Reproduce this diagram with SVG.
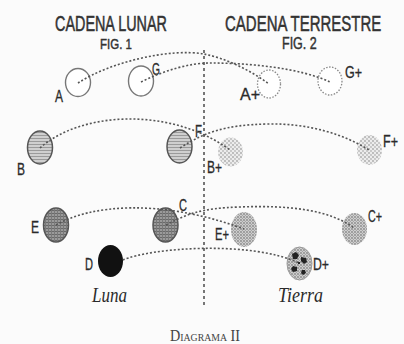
<svg xmlns="http://www.w3.org/2000/svg" width="404" height="344" viewBox="0 0 404 344">
<style>
.t{font-family:"Liberation Sans",Arial,sans-serif;fill:#333;stroke:#333;stroke-width:0.35}
.lb{font-family:"Liberation Sans",Arial,sans-serif;fill:#2a2a2a;stroke:#2a2a2a;stroke-width:0.3;font-size:16px}
.it{font-family:"Liberation Serif","Times New Roman",serif;font-style:italic;fill:#2a2a2a;font-size:21px}
.cap{font-family:"Liberation Serif","Times New Roman",serif;fill:#444;font-size:16px;font-variant:small-caps}
.dot{fill:none;stroke:#555;stroke-width:1.6;stroke-dasharray:2 2}
.ring{fill:#fff;stroke:#777;stroke-width:1.4}
.ringd{fill:#fff;stroke:#888;stroke-width:1.3;stroke-dasharray:1.5 1.5}
.dk{stroke:#555;stroke-width:1.5}
</style>
<defs>
<pattern id="stripe" width="4" height="3" patternUnits="userSpaceOnUse">
<rect width="4" height="3" fill="#cfcfcf"/>
<rect width="4" height="1" fill="#9a9a9a"/>
</pattern>
<pattern id="grid" width="3" height="3" patternUnits="userSpaceOnUse">
<rect width="3" height="3" fill="#9a9a9a"/>
<rect width="3" height="1" fill="#6a6a6a"/>
<rect width="1" height="3" fill="#7a7a7a"/>
</pattern>
<pattern id="stipL" width="4" height="4" patternUnits="userSpaceOnUse">
<rect width="4" height="4" fill="#ececec"/>
<circle cx="1" cy="1" r="0.9" fill="#a8a8a8"/>
<circle cx="3" cy="3" r="0.9" fill="#b8b8b8"/>
</pattern>
<pattern id="stipD" width="3" height="3" patternUnits="userSpaceOnUse">
<rect width="3" height="3" fill="#d0d0d0"/>
<circle cx="1" cy="1" r="0.9" fill="#888"/>
<circle cx="2.4" cy="2.3" r="0.6" fill="#999"/>
</pattern>
</defs>
<rect width="404" height="344" fill="#fbfbfb"/>

<g id="titles">
<text class="t" transform="translate(55,30.5) scale(1,1.5)" font-size="14.4">CADENA LUNAR</text>
<text class="t" transform="translate(100,49) scale(1,1.3)" font-size="11.5">FIG. 1</text>
<text class="t" transform="translate(225,30.5) scale(1,1.45)" font-size="15">CADENA TERRESTRE</text>
<text class="t" transform="translate(282,49) scale(1,1.3)" font-size="12.5">FIG. 2</text>
</g>

<g id="divider">
<line x1="204" y1="50" x2="204" y2="307" stroke="#555" stroke-width="1.6" stroke-dasharray="3 3"/>
</g>

<g id="node-A"><ellipse class="ring" cx="78" cy="82.5" rx="12.5" ry="14"/><text class="lb" x="55" y="102" textLength="8" lengthAdjust="spacingAndGlyphs">A</text></g>
<g id="node-G"><ellipse class="ring" cx="141" cy="81" rx="12.5" ry="15"/><text class="lb" x="152" y="75" textLength="8" lengthAdjust="spacingAndGlyphs">G</text></g>
<g id="node-Aplus"><ellipse class="ringd" cx="269" cy="84" rx="11.5" ry="14"/><text class="lb" x="240" y="100" textLength="20" lengthAdjust="spacingAndGlyphs">A+</text></g>
<g id="node-Gplus"><ellipse class="ringd" cx="330" cy="81" rx="12" ry="14"/><text class="lb" x="345" y="78" textLength="17" lengthAdjust="spacingAndGlyphs">G+</text></g>

<g id="node-B"><ellipse cx="40" cy="147.5" rx="12.5" ry="16.5" fill="url(#stripe)" class="dk"/><text class="lb" x="17" y="175" textLength="8" lengthAdjust="spacingAndGlyphs">B</text></g>
<g id="node-F"><ellipse cx="179.5" cy="146.5" rx="12.5" ry="16.5" fill="url(#stripe)" class="dk"/><text class="lb" x="195" y="137" textLength="7" lengthAdjust="spacingAndGlyphs">F</text></g>
<g id="node-Bplus"><ellipse cx="230.5" cy="152" rx="12.5" ry="14.5" fill="url(#stipL)"/><text class="lb" x="207" y="173" textLength="15" lengthAdjust="spacingAndGlyphs">B+</text></g>
<g id="node-Fplus"><ellipse cx="369.5" cy="150" rx="12.5" ry="15" fill="url(#stipL)"/><text class="lb" x="383" y="147" textLength="15" lengthAdjust="spacingAndGlyphs">F+</text></g>

<g id="node-E"><ellipse cx="56" cy="225" rx="12.5" ry="17" fill="url(#grid)" class="dk"/><text class="lb" x="31" y="233" textLength="8" lengthAdjust="spacingAndGlyphs">E</text></g>
<g id="node-C"><ellipse cx="165.5" cy="225" rx="12.5" ry="17" fill="url(#grid)" class="dk"/><text class="lb" x="179" y="211" textLength="8" lengthAdjust="spacingAndGlyphs">C</text></g>
<g id="node-Eplus"><ellipse cx="244" cy="229.5" rx="13" ry="17.5" fill="url(#stipD)"/><text class="lb" x="215" y="240" textLength="14" lengthAdjust="spacingAndGlyphs">E+</text></g>
<g id="node-Cplus"><ellipse cx="354.5" cy="229" rx="12.5" ry="16" fill="url(#stipD)"/><text class="lb" x="368" y="222" textLength="14" lengthAdjust="spacingAndGlyphs">C+</text></g>

<g id="node-D"><ellipse cx="110.5" cy="261" rx="12.5" ry="16" fill="#111"/><text class="lb" x="85" y="270" textLength="8" lengthAdjust="spacingAndGlyphs">D</text></g>
<g id="node-Dplus"><ellipse cx="299.5" cy="263.5" rx="12.5" ry="16.5" fill="url(#stipD)" stroke="#999" stroke-width="1"/>
<path d="M292,254 l4,-2 3,3 -2,4 -4,0 z M301,257 l5,1 1,4 -3,2 -3,-3 z M293,266 l4,1 0,4 -4,1 -2,-3 z M302,270 l3,0 1,3 -3,2 -2,-2 z M298,262 l2,0 0,2 -2,0 z" fill="#222"/>
<text class="lb" x="313" y="270" textLength="16" lengthAdjust="spacingAndGlyphs">D+</text></g>

<g id="connectors">
<path class="dot" d="M78,83 C110,62 170,48 204,54 C225,58 250,70 269,84"/>
<path class="dot" d="M141,82 C165,70 190,63 210,63 C250,63 300,68 330,82"/>
<path class="dot" d="M40,148 C80,112 170,106 230,150"/>
<path class="dot" d="M180,148 C205,132 225,125 267,124 C310,123 345,135 369,150"/>
<path class="dot" d="M56,225 C90,205 160,198 244,229"/>
<path class="dot" d="M166,225 C185,215 200,208 240,207 C290,205 330,210 354,228"/>
<path class="dot" d="M123,260 C150,248 250,240 299,263"/>
</g>

<g id="captions">
<text class="it" x="92" y="302" textLength="35" lengthAdjust="spacingAndGlyphs">Luna</text>
<text class="it" x="278" y="302" textLength="45" lengthAdjust="spacingAndGlyphs">Tierra</text>
<text class="cap" x="170" y="341" textLength="70" lengthAdjust="spacingAndGlyphs">Diagrama II</text>
</g>
</svg>
